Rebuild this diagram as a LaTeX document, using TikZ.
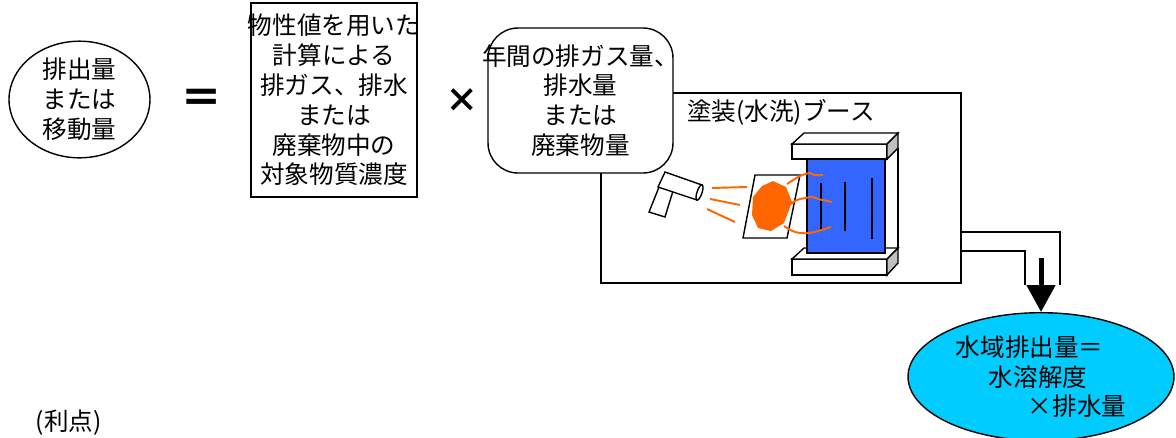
\documentclass[tikz,border=0pt]{standalone}
\usepackage{fontspec}
\setmainfont{Noto Sans CJK JP}
\usetikzlibrary{positioning}
\usetikzlibrary{shapes}
\usetikzlibrary{arrows.meta}

\definecolor{curtainblue}{HTML}{3366FF}
\definecolor{paintorange}{HTML}{FF6600}
\definecolor{waterblue}{HTML}{00CCFF}
\definecolor{barside}{HTML}{C0C0C0}

\tikzset{
    jp/.style={font=\fontsize{14pt}{17pt}\selectfont, align=center},
    box/.style={draw, fill=white},
    spray/.style={draw=paintorange, line width=1.1pt},
    water/.style={ellipse, draw, fill=waterblue, minimum width=5.32cm, minimum height=2.56cm, inner sep=0, align=left},
}

\begin{document}
\begin{tikzpicture}[x=0.02cm, y=-0.02cm, line width=0.8pt]
    \useasboundingbox (0,0) rectangle (1176,437);
    % nodes %
    \node[jp, ellipse, draw, minimum width=2.82cm, minimum height=2.26cm, inner sep=0] (emis) at (79.5,99.5) {排出量\\または\\移動量};
    \node[font=\fontsize{24pt}{24pt}\selectfont\bfseries] (eq) at (202,101) {＝};
    \node[jp, box, minimum width=3.32cm, minimum height=3.88cm, inner xsep=-0.1cm] (conc) at (334,100) {物性値を用いた\\計算による\\排ガス、排水\\または\\廃棄物中の\\対象物質濃度};
    \node[font=\fontsize{19pt}{19pt}\selectfont\bfseries] (times) at (462,101) {×};
    \node[draw, minimum width=7.2cm, minimum height=3.8cm, inner sep=0] (booth) at (781,188) {};
    \node[jp, box, rounded corners=0.6cm, minimum width=3.7cm, minimum height=2.9cm, inner xsep=-0.15cm] (annual) at (580.5,100.5) {年間の排ガス量、\\排水量\\または\\廃棄物量};
    \node[jp, inner sep=0, below = 0.13cm of booth.north] (boothlbl) {塗装(水洗)ブース};
    \coordinate (drain) at (1041,258);
    \node[jp, water, below = 1.08cm of drain] (water) {水域排出量＝\\\hspace*{0.66cm}水溶解度\\\hspace*{1.44cm}×排水量};
    \node[font=\fontsize{14pt}{14pt}\selectfont, anchor=south west, inner sep=0] (merit) at (35,436) {(利点)};
    % spray gun %
    \draw[fill=white] (659,187) -- (673,191) -- (665,217) -- (649,212) -- cycle;
    \draw[fill=white] (665,172) -- (702,185) -- (697,200) -- (658,187) -- cycle;
    \draw[fill=white, rotate around={-19:(699.5,192.5)}] (699.5,192.5) ellipse (0.05cm and 0.16cm);
    \draw[spray] (712,188) -- (747,187);
    \draw[spray] (710,199) -- (740,205);
    \draw[spray] (707,209) -- (735,222);
    % work piece %
    \draw[fill=white] (755,175) -- (800,175) -- (787,238) -- (743,238) -- cycle;
    \fill[paintorange] (762,186) -- (773,181) -- (786,187) -- (792,202) -- (784,223) -- (771,231) -- (758,228) -- (752,215) -- (753,197) -- cycle;
    % water curtain %
    \draw[fill=white] (792,259) rectangle (887,275);
    \draw[fill=white] (792,259) -- (804,248) -- (898,248) -- (887,259) -- cycle;
    \draw[fill=barside] (887,259) -- (898,248) -- (898,263) -- (887,275) -- cycle;
    \draw (898,148) -- (898,248);
    \draw[fill=curtainblue] (807,158) rectangle (885,253);
    \draw (821,183) -- (821,230);
    \draw (845,182) -- (845,231);
    \draw (872,178) -- (872,239);
    \draw[fill=white] (792,144) rectangle (887,159);
    \draw[fill=white] (792,144) -- (804,133) -- (898,133) -- (887,144) -- cycle;
    \draw[fill=barside] (887,144) -- (898,133) -- (898,148) -- (887,159) -- cycle;
    \draw[spray] plot[smooth] coordinates {(787,184) (800,176) (810,173) (814,175) (823,175)};
    \draw[spray] plot[smooth] coordinates {(787,207) (797,200) (812,197) (818,199) (832,202)};
    \draw[spray] plot[smooth] coordinates {(784,226) (795,232) (810,233) (831,227)};
    % edges %
    \draw (961,232) -- (1060,232) -- (1060,285);
    \draw (961,251) -- (1025,251) -- (1025,285);
    \draw[line width=0.1cm, -{Triangle[width=0.56cm, length=0.54cm]}] (drain) -- (water.north);
\end{tikzpicture}
\end{document}
